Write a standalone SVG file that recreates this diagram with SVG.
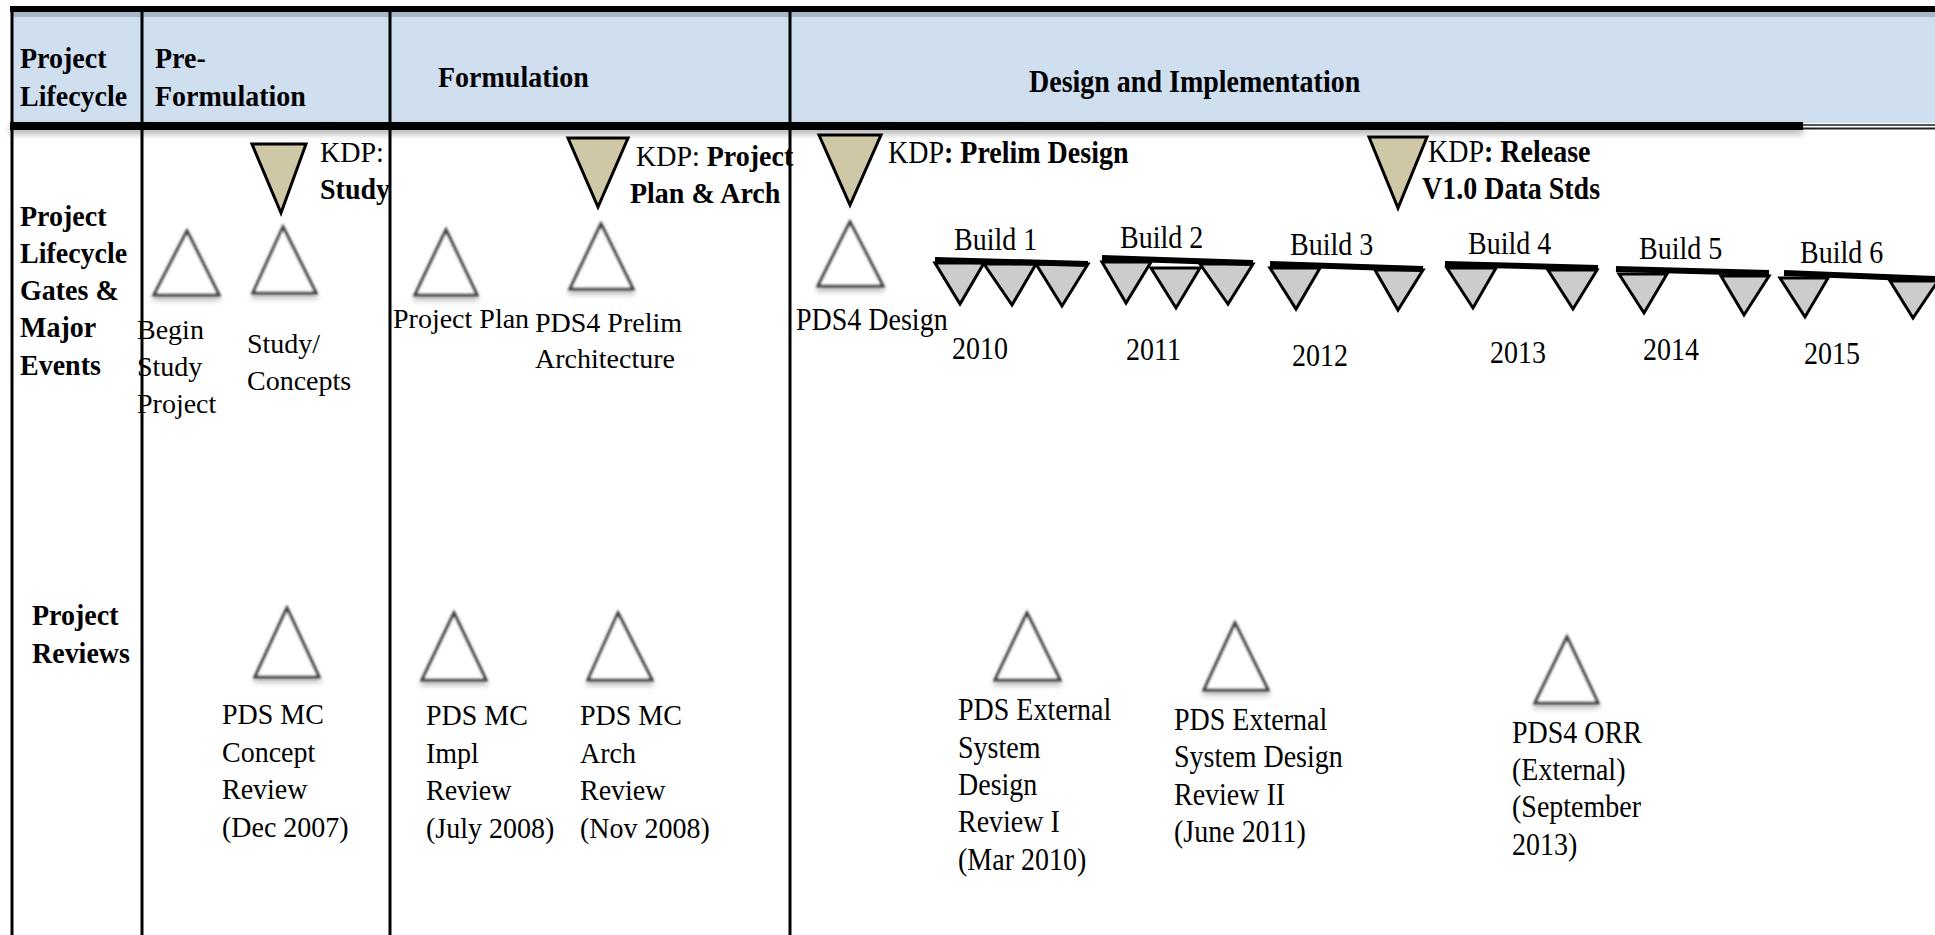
<svg xmlns="http://www.w3.org/2000/svg" width="1935" height="935" viewBox="0 0 1935 935">
<defs>
<filter id="soft" x="-30%" y="-30%" width="160%" height="170%">
<feGaussianBlur in="SourceGraphic" stdDeviation="0.8" result="b"/>
<feDropShadow dx="0" dy="4" stdDeviation="2.5" flood-color="#000" flood-opacity="0.25"/>
</filter>
<filter id="lineShadow" x="-5%" y="-50%" width="110%" height="400%">
<feDropShadow dx="0" dy="4" stdDeviation="3" flood-color="#000" flood-opacity="0.3"/>
</filter>
<style>
text{font-family:"Liberation Serif","Times New Roman",serif;font-size:28px;fill:#000}
.b{font-weight:bold}
.kdp{fill:#cfc8a6;stroke:#000;stroke-width:3;stroke-linejoin:miter}
.ms{fill:#fff;stroke:#3f3f3f;stroke-width:3;filter:url(#soft)}
.bt{fill:#cccccc;stroke:#000;stroke-width:3;stroke-linejoin:miter}
.bar{stroke:#000;stroke-width:6;stroke-linecap:butt}
.grid{stroke:#000;stroke-width:3;fill:none}
</style>
</defs>
<rect x="0" y="0" width="1935" height="935" fill="#fff"/>
<rect x="12" y="10" width="1923" height="113" fill="#cfdff0"/>
<rect x="12" y="11" width="1923" height="6" fill="#8c9cab" opacity="0.6"/>
<g id="grid">
<rect x="10" y="6" width="1925" height="6" fill="#000"/>
<rect x="10" y="122" width="1793" height="8" fill="#000" filter="url(#lineShadow)"/>
<line x1="1803" y1="125" x2="1935" y2="125" stroke="#555" stroke-width="2"/>
<line x1="1803" y1="128.5" x2="1935" y2="128.5" stroke="#222" stroke-width="2"/>
<line class="grid" x1="10" y1="445" x2="1935" y2="445" filter="url(#lineShadow)"/>
<line class="grid" x1="12" y1="6" x2="12" y2="935"/>
<line class="grid" x1="142" y1="6" x2="142" y2="935"/>
<line class="grid" x1="390" y1="6" x2="390" y2="935"/>
<line class="grid" x1="790" y1="6" x2="790" y2="935"/>
</g>
<g id="hdr-lifecycle"><text class="b" transform="translate(20 68) scale(1 1.08)">Project</text><text class="b" transform="translate(20 106) scale(1 1.08)">Lifecycle</text></g>
<g id="hdr-preform"><text class="b" transform="translate(155 68) scale(1 1.08)">Pre-</text><text class="b" transform="translate(155 106) scale(1 1.08)">Formulation</text></g>
<g id="hdr-form"><text class="b" transform="translate(438 87) scale(1 1.08)">Formulation</text></g>
<g id="hdr-design"><text class="b" transform="translate(1029 92) scale(1 1.1)">Design and Implementation</text></g>
<g id="row-gates"><text class="b" transform="translate(20 226) scale(1 1.08)">Project</text><text class="b" transform="translate(20 263) scale(1 1.08)">Lifecycle</text><text class="b" transform="translate(20 300) scale(1 1.08)">Gates &amp;</text><text class="b" transform="translate(20 337) scale(1 1.08)">Major</text><text class="b" transform="translate(20 375) scale(1 1.08)">Events</text></g>
<g id="row-reviews"><text class="b" transform="translate(32 625) scale(1 1.08)">Project</text><text class="b" transform="translate(32 663) scale(1 1.08)">Reviews</text></g>
<g id="kdp-study"><polygon class="kdp" points="252,144 306,144 281,213"/><text transform="translate(320 162) scale(1 1.04)">KDP:</text><text class="b" transform="translate(320 199) scale(1 1.04)">Study</text></g>
<g id="kdp-plan"><polygon class="kdp" points="568,138 628,138 598,207"/><text transform="translate(636 166) scale(1 1.04)">KDP: <tspan class="b">Project</tspan></text><text class="b" transform="translate(630 203) scale(1 1.04)">Plan &amp; Arch</text></g>
<g id="kdp-prelim"><polygon class="kdp" points="819,135 881,135 850,205"/><text transform="translate(888 163) scale(1 1.1)">KDP<tspan class="b">: Prelim Design</tspan></text></g>
<g id="kdp-release"><polygon class="kdp" points="1369,137 1427,137 1398,208"/><text transform="translate(1428 162) scale(1 1.1)">KDP<tspan class="b">: Release</tspan></text><text class="b" transform="translate(1422 199) scale(1 1.1)">V1.0 Data Stds</text></g>
<g id="ms-begin"><polygon class="ms" points="187,231 154,295 219,295"/><text x="137" y="339">Begin</text><text x="137" y="376">Study</text><text x="137" y="413">Project</text></g>
<g id="ms-study"><polygon class="ms" points="283,227 253,293 316,293"/><text x="247" y="353">Study/</text><text x="247" y="390">Concepts</text></g>
<g id="ms-plan"><polygon class="ms" points="446,230 415,295 477,295"/><text x="393" y="328">Project Plan</text></g>
<g id="ms-prelim"><polygon class="ms" points="601,224 570,289 633,289"/><text x="535" y="332">PDS4 Prelim</text><text x="535" y="368">Architecture</text></g>
<g id="ms-design"><polygon class="ms" points="850,222 818,286 883,286"/><text transform="translate(796 330) scale(1 1.1)">PDS4 Design</text></g>
<g id="build1">
<polygon class="bt" points="935,263 984,263 960,304"/><polygon class="bt" points="984,264 1036,264 1012,305"/><polygon class="bt" points="1036,264 1088,264 1062,306"/>
<line class="bar" x1="935" y1="260" x2="1088" y2="264"/>
<text transform="translate(954 250) scale(1 1.1)">Build 1</text><text transform="translate(952 359) scale(1 1.12)">2010</text></g>
<g id="build2">
<polygon class="bt" points="1102,262 1151,262 1126,303"/><polygon class="bt" points="1151,268 1200,268 1176,308"/><polygon class="bt" points="1200,264 1253,264 1228,304"/>
<line class="bar" x1="1102" y1="258" x2="1253" y2="263"/>
<text transform="translate(1120 248) scale(1 1.1)">Build 2</text><text transform="translate(1126 360) scale(1 1.12)">2011</text></g>
<g id="build3">
<polygon class="bt" points="1270,268 1320,268 1296,309"/><polygon class="bt" points="1375,270 1423,270 1398,310"/>
<line class="bar" x1="1270" y1="264" x2="1423" y2="269"/>
<text transform="translate(1290 255) scale(1 1.1)">Build 3</text><text transform="translate(1292 366) scale(1 1.12)">2012</text></g>
<g id="build4">
<polygon class="bt" points="1447,268 1496,268 1473,308"/><polygon class="bt" points="1548,270 1597,270 1573,309"/>
<line class="bar" x1="1445" y1="264" x2="1598" y2="268"/>
<text transform="translate(1468 254) scale(1 1.1)">Build 4</text><text transform="translate(1490 363) scale(1 1.12)">2013</text></g>
<g id="build5">
<polygon class="bt" points="1619,274 1667,274 1644,313"/><polygon class="bt" points="1721,276 1769,276 1744,315"/>
<line class="bar" x1="1616" y1="269" x2="1769" y2="273"/>
<text transform="translate(1639 259) scale(1 1.1)">Build 5</text><text transform="translate(1643 360) scale(1 1.12)">2014</text></g>
<g id="build6">
<polygon class="bt" points="1780,278 1828,278 1805,317"/><polygon class="bt" points="1890,281 1938,281 1913,318"/>
<line class="bar" x1="1784" y1="273" x2="1935" y2="279"/>
<text transform="translate(1800 263) scale(1 1.1)">Build 6</text><text transform="translate(1804 364) scale(1 1.12)">2015</text></g>
<g id="rev-concept"><polygon class="ms" points="287,608 255,677 319,677"/><text transform="translate(222 724) scale(1 1.07)">PDS MC</text><text transform="translate(222 762) scale(1 1.07)">Concept</text><text transform="translate(222 799) scale(1 1.07)">Review</text><text transform="translate(222 837) scale(1 1.07)">(Dec 2007)</text></g>
<g id="rev-impl"><polygon class="ms" points="454,613 422,680 486,680"/><text transform="translate(426 725) scale(1 1.07)">PDS MC</text><text transform="translate(426 763) scale(1 1.07)">Impl</text><text transform="translate(426 800) scale(1 1.07)">Review</text><text transform="translate(426 838) scale(1 1.07)">(July 2008)</text></g>
<g id="rev-arch"><polygon class="ms" points="618,613 588,680 652,680"/><text transform="translate(580 725) scale(1 1.07)">PDS MC</text><text transform="translate(580 763) scale(1 1.07)">Arch</text><text transform="translate(580 800) scale(1 1.07)">Review</text><text transform="translate(580 838) scale(1 1.07)">(Nov 2008)</text></g>
<g id="rev-sdr1"><polygon class="ms" points="1027,613 995,680 1060,680"/><text transform="translate(958 720) scale(1 1.12)">PDS External</text><text transform="translate(958 758) scale(1 1.12)">System</text><text transform="translate(958 795) scale(1 1.12)">Design</text><text transform="translate(958 832) scale(1 1.12)">Review I</text><text transform="translate(958 870) scale(1 1.12)">(Mar 2010)</text></g>
<g id="rev-sdr2"><polygon class="ms" points="1235,623 1204,690 1268,690"/><text transform="translate(1174 730) scale(1 1.12)">PDS External</text><text transform="translate(1174 767) scale(1 1.12)">System Design</text><text transform="translate(1174 805) scale(1 1.12)">Review II</text><text transform="translate(1174 842) scale(1 1.12)">(June 2011)</text></g>
<g id="rev-orr"><polygon class="ms" points="1567,637 1535,703 1598,703"/><text transform="translate(1512 743) scale(1 1.12)">PDS4 ORR</text><text transform="translate(1512 780) scale(1 1.12)">(External)</text><text transform="translate(1512 817) scale(1 1.12)">(September</text><text transform="translate(1512 855) scale(1 1.12)">2013)</text></g>
</svg>
